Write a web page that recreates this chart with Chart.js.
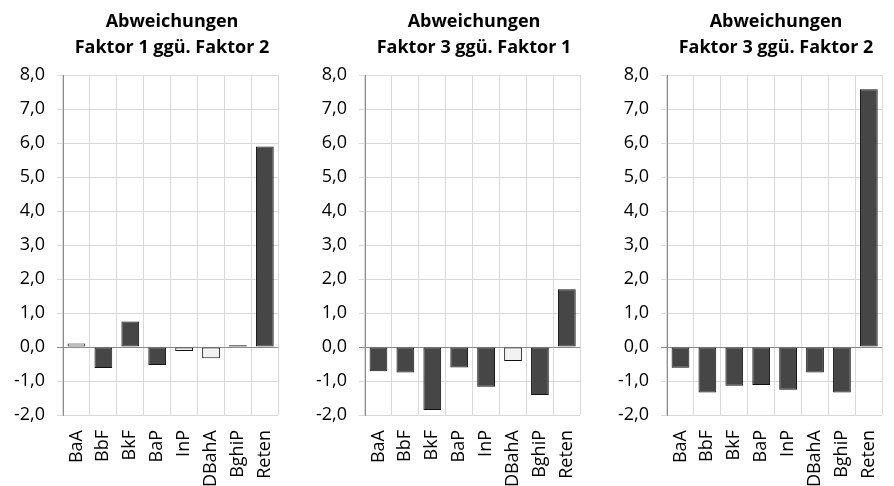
<!DOCTYPE html>
<html>
<head>
<meta charset="utf-8">
<script src="https://cdn.jsdelivr.net/npm/chart.js@4.4.1/dist/chart.umd.min.js"></script>
<style>
html,body{margin:0;padding:0;background:#fff;overflow:hidden;width:894px;height:486px}
.panel{position:absolute;top:0;width:302px;height:486px}
.title{position:absolute;top:8px;left:22px;width:300px;text-align:center;font:bold 18px/25.5px 'Open Sans',sans-serif;color:#000;white-space:nowrap}
</style>
</head>
<body>
<div class="panel" style="left:0"><canvas id="c1"></canvas><div class="title" id="t1"></div></div>
<div class="panel" style="left:302px"><canvas id="c2"></canvas><div class="title" id="t2"></div></div>
<div class="panel" style="left:604px"><canvas id="c3"></canvas><div class="title" id="t3"></div></div>
<script>
/* DATEN */
const categories=["BaA","BbF","BkF","BaP","InP","DBahA","BghiP","Reten"];

const faktor1vs2=[0.1,-0.62,0.75,-0.53,-0.12,-0.33,0.05,5.9];
const faktor3vs1=[-0.71,-0.75,-1.85,-0.6,-1.17,-0.41,-1.41,1.7];
const faktor3vs2=[-0.61,-1.34,-1.14,-1.12,-1.26,-0.75,-1.34,7.58];

const titles=[
  ["Abweichungen","Faktor 1 ggü. Faktor 2"],
  ["Abweichungen","Faktor 3 ggü. Faktor 1"],
  ["Abweichungen","Faktor 3 ggü. Faktor 2"]
];

const yMin=-2;
const yMax=8;
const yStep=1;

/* helle Balken je Diagramm */
const lightBars=[
  ["BaA","InP","DBahA","BghiP"],
  ["DBahA"],
  []
];

const DARK="#464646";
const LIGHT="#f2f2f2";
const GRID="#d9d9d9";
const AXIS="#8c8c8c";
const FONT="'Open Sans', sans-serif";

function makeChart(id,values,light){
  return new Chart(document.getElementById(id),{
    type:"bar",
    data:{
      labels:categories,
      datasets:[{
        data:values,
        backgroundColor:categories.map(c=>light.includes(c)?LIGHT:DARK),
        borderColor:"#111",
        borderWidth:1,
        borderSkipped:false,
        barPercentage:0.66,
        categoryPercentage:1
      }]
    },
    options:{
      responsive:true,
      maintainAspectRatio:false,
      animation:false,
      devicePixelRatio:1,
      layout:{padding:{left:0,right:9,top:75,bottom:0}},
      plugins:{
        legend:{display:false},
        tooltip:{enabled:false},
        title:{display:false}
      },
      scales:{
        x:{
          grid:{color:GRID,offset:true,drawTicks:false},
          border:{display:false},
          ticks:{
            color:"#000",
            font:{family:FONT,size:18},
            minRotation:90,
            maxRotation:90,
            autoSkip:false,
            padding:15
          },
          afterFit:s=>{s.height=71;}
        },
        y:{
          min:yMin,
          max:yMax,
          grid:{
            color:c=>c.tick&&c.tick.value===0?AXIS:GRID,
            tickLength:6
          },
          border:{display:true,color:AXIS},
          ticks:{
            stepSize:yStep,
            color:"#000",
            font:{family:FONT,size:18},
            padding:12,
            callback:v=>v.toFixed(1).replace(".",",")
          },
          afterFit:s=>{s.width=63;}
        }
      }
    }
  });
}

/* TITEL */
titles.forEach((t,i)=>{
  document.getElementById("t"+(i+1)).innerHTML=t.join("<br>");
});

makeChart("c1",faktor1vs2,lightBars[0]);
makeChart("c2",faktor3vs1,lightBars[1]);
makeChart("c3",faktor3vs2,lightBars[2]);
</script>
</body>
</html>
